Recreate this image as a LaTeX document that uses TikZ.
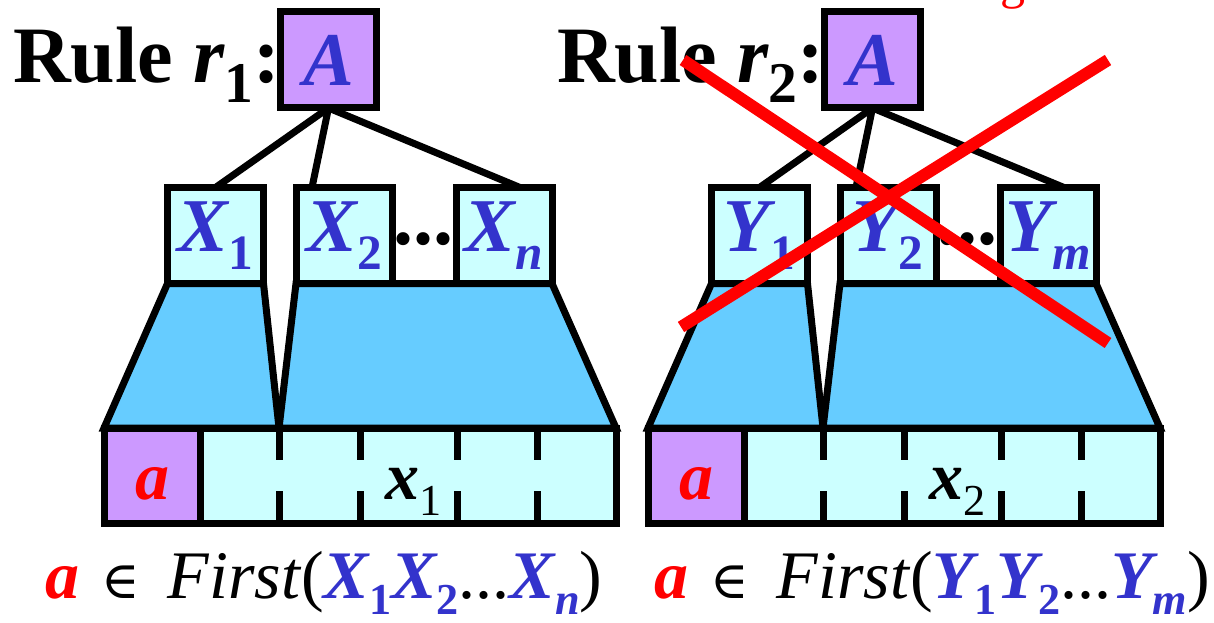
\documentclass[tikz,border=0pt]{standalone}
\usepackage{fontspec}
\setmainfont{LiberationSerif}[
    Extension=.ttf,
    UprightFont=*-Regular,
    BoldFont=*-Bold,
    ItalicFont=*-Italic,
    BoldItalicFont=*-BoldItalic]
\newfontfamily\symfam{DejaVu Serif}
\usepackage{tikz}
\usetikzlibrary{backgrounds}

\definecolor{ntpurple}{HTML}{CC99FF}
\definecolor{cellcyan}{HTML}{CCFFFF}
\definecolor{treeblue}{HTML}{66CCFF}
\definecolor{symblue}{HTML}{3333CC}

\newcommand{\fsz}[1]{\fontsize{#1}{#1}\selectfont}
\newcommand{\subidx}[2][0.65]{\raisebox{-0.24em}{\scalebox{#1}{#2}}}
\newcommand{\elemof}{{\symfam\mdseries\upshape\fsz{52}∈}}

\begin{document}
\begin{tikzpicture}[
    x=1pt, y=-1pt,
    symbox/.style={draw, line width=7pt, outer sep=0pt, inner sep=0pt, minimum width=96pt, minimum height=96pt, font=\fsz{76}\bfseries\itshape, text=symblue},
    rootbox/.style={symbox, fill=ntpurple},
    kidbox/.style={symbox, fill=cellcyan},
    ruletext/.style={anchor=base west, inner sep=0pt, font=\fsz{80}\bfseries},
    dotstext/.style={anchor=base, inner sep=0pt, font=\fsz{80}\bfseries},
    edge/.style={line width=7pt},
    subtree/.style={draw, line width=7pt, fill=treeblue},
    inputbar/.style={draw, line width=7pt, outer sep=0pt, inner sep=0pt, fill=cellcyan, minimum width=512pt, minimum height=95pt},
    tokcell/.style={draw, line width=7pt, outer sep=0pt, inner sep=0pt, fill=ntpurple, minimum width=96pt, minimum height=95pt},
    tokmark/.style={anchor=base, inner sep=0pt, font=\fsz{68}\bfseries\itshape, text=red},
    strtext/.style={anchor=base west, inner sep=0pt, font=\fsz{68}\bfseries\itshape},
    firsttext/.style={anchor=base west, inner sep=0pt, font=\fsz{68}},
    tick/.style={line width=7pt},
    cross/.style={draw=red, line width=12pt},
]
\useasboundingbox (0,0) rectangle (1214,623);

% the two rules, side by side
\foreach \s/\V/\last/\dx in {1/X/n/0, 2/Y/m/544} {
\begin{scope}[xshift=\dx pt]
    \node[ruletext] (rule\s) at (13,83) {Rule \textit{r}\subidx[0.72]{\s}:};
    \node[rootbox] (A\s) at (328.5,60) {A};

    % children
    \node[kidbox] (\V1) at (215.5,235.5) {\V\subidx{\upshape 1}};
    \node[kidbox] (\V2) at (344,235.5) {\V\subidx{\upshape 2}};
    \node[kidbox] (\V\last) at (504,235.5) {\V\subidx{\last}};
    \node[dotstext] (dots\s) at (423.5,244) {...};

    \draw[edge] (A\s.south) -- (\V1.north);
    \draw[edge] (A\s.south) -- ([xshift=-32pt]\V2.north);
    \draw[edge] (A\s.south) -- ([xshift=16pt]\V\last.north);

    % input string
    \node[inputbar] (bar\s) at (360,475.5) {};
    \node[tokcell] (tok\s) at (152,475.5) {};
    \node[tokmark] (a\s) at (152,499) {a};
    \node[strtext] (str\s) at (385,499) {x\subidx{\mdseries\upshape \s}};
    \foreach \t in {279,360,457,537}
        \draw[tick] (\t,428) -- (\t,460) (\t,491) -- (\t,523);

    % derivation trees
    \begin{scope}[on background layer]
        \draw[subtree] (\V1.south west) -- (\V1.south east) -- (279,428) -- (bar\s.north west) -- cycle;
        \draw[subtree] (\V2.south west) -- (\V\last.south east) -- (bar\s.north east) -- (279,428) -- cycle;
    \end{scope}
\end{scope}
}

% First sets
\node[firsttext] (first1) at (45,598) {{\color{red}\bfseries\itshape a}\hspace{22pt}\elemof\hspace{28pt}\textit{First}({\color{symblue}\bfseries\itshape X\subidx{\upshape 1}X\subidx{\upshape 2}}...{\color{symblue}\bfseries\itshape X\subidx{n}})};
\node[firsttext] (first2) at (654,598) {{\color{red}\bfseries\itshape a}\hspace{22pt}\elemof\hspace{28pt}\textit{First}({\color{symblue}\bfseries\itshape Y\subidx{\upshape 1}Y\subidx{\upshape 2}}...{\color{symblue}\bfseries\itshape Y\subidx{m}})};

% rule 2 is struck out
\node[anchor=base west, inner sep=0pt, font=\fsz{50}, text=red] (cut) at (1000,-1) {g};
\draw[cross] (683,60) -- (1108,343);
\draw[cross] (1108,60) -- (681,327);

\end{tikzpicture}
\end{document}
